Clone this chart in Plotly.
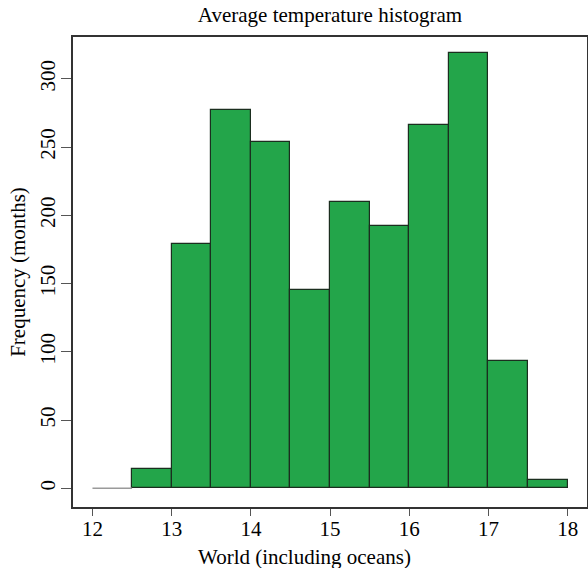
import plotly.graph_objects as go

bin_edges = [12.0, 12.5, 13.0, 13.5, 14.0, 14.5, 15.0, 15.5, 16.0, 16.5, 17.0, 17.5, 18.0]
counts = [0, 14, 179, 277, 254, 145, 210, 192, 266, 319, 93, 6]
x_ticks = [12, 13, 14, 15, 16, 17, 18]
y_ticks = [0, 50, 100, 150, 200, 250, 300]

centers = [(a + b) / 2 for a, b in zip(bin_edges[:-1], bin_edges[1:])]
widths = [b - a for a, b in zip(bin_edges[:-1], bin_edges[1:])]

nz = [i for i, c in enumerate(counts) if c > 0]
zero_bins = [i for i, c in enumerate(counts) if c == 0]

FONT = "Liberation Serif, Times New Roman, serif"

fig = go.Figure()

# zero-height bins drawn as thin gray lines (like R's hist)
for i in zero_bins:
    fig.add_trace(go.Scatter(
        x=[bin_edges[i], bin_edges[i + 1]], y=[counts[i], counts[i]],
        mode="lines", line=dict(color="#9a9a9a", width=1.5),
        hoverinfo="skip", showlegend=False))

fig.add_trace(go.Bar(
    x=[centers[i] for i in nz],
    y=[counts[i] for i in nz],
    width=[widths[i] for i in nz],
    marker=dict(color="#23a54a", line=dict(color="#1b2e1f", width=1.2)),
    showlegend=False))

fig.update_layout(
    width=588, height=568,
    margin=dict(l=73, r=1, t=37, b=61, autoexpand=False),
    paper_bgcolor="white", plot_bgcolor="white",
    font=dict(family=FONT, color="black", size=21),
    title=dict(text="Average temperature histogram", x=0.5, xref="paper",
               y=1, yref="container", yanchor="top", pad=dict(t=7),
               font=dict(family=FONT, size=21, color="black")),
    bargap=0,
    annotations=[dict(text="World (including oceans)", xref="paper", yref="paper",
                      x=0.451, y=0, xanchor="center", yanchor="top", yshift=-36,
                      showarrow=False, font=dict(family=FONT, size=21, color="black"))],
)

fig.update_xaxes(
    range=[11.754, 18.244], tickvals=x_ticks, ticktext=[str(v) for v in x_ticks],
    automargin=False,
    showgrid=False, zeroline=False, showline=True, linecolor="#333333", linewidth=1.5,
    mirror=True, ticks="outside", ticklen=7, tickcolor="#555555", tickwidth=1.2,
    ticklabelstandoff=-5,
    tickfont=dict(family=FONT, size=21, color="black"),
)
fig.update_yaxes(
    range=[-13.7, 330.6], tickvals=y_ticks, ticktext=[str(v) for v in y_ticks],
    tickangle=-90, automargin=False,
    showgrid=False, zeroline=False, showline=True, linecolor="#333333", linewidth=1.5,
    mirror=True, ticks="outside", ticklen=10, tickcolor="#555555", tickwidth=1.2,
    ticklabelstandoff=-2,
    tickfont=dict(family=FONT, size=21, color="black"),
    title=dict(text="Frequency (months)", standoff=4,
               font=dict(family=FONT, size=21, color="black")),
)

fig.write_html("out.html")
